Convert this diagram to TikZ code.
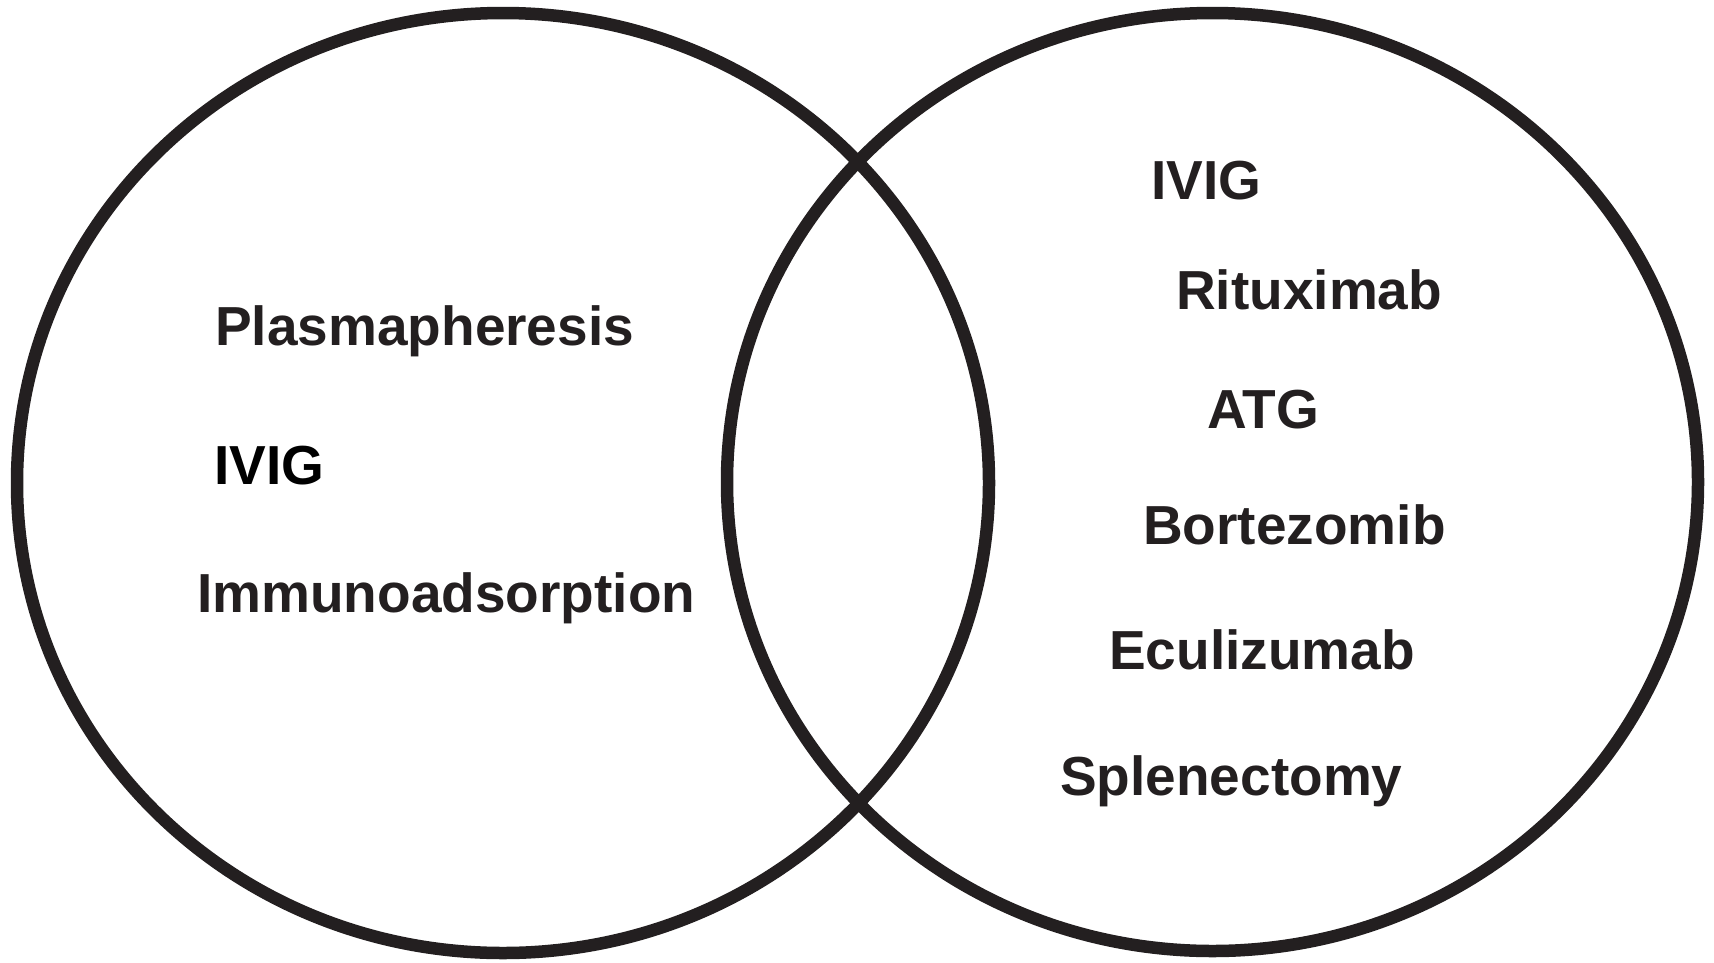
\documentclass[tikz,border=0pt]{standalone}
\usepackage{fontspec}
\setmainfont{Liberation Sans}
\usetikzlibrary{positioning}
\definecolor{inkdark}{RGB}{35,31,32}

\begin{document}
\begin{tikzpicture}[
    x=1pt, y=-1pt,
    ring/.style={draw=inkdark, line width=12.5pt},
    item/.style={anchor=base west, inner sep=0pt, text=inkdark,
        font=\fontsize{55}{60}\selectfont\bfseries}
]
\useasboundingbox (0,0) rectangle (1714,962);

% Circles
\draw[ring] (503,483) ellipse [x radius=486, y radius=470];
\draw[ring] (1212.5,482) ellipse [x radius=485.5, y radius=469];

% Left set
\node[item] (plasma) at (215,345) {Plasmapheresis};
\node[item, text=black] (ivigl) at (214,484) {IVIG};
\node[item] (immuno) at (197,612) {Immunoadsorption};

% Right set
\node[item] (ivigr) at (1151,199) {IVIG};
\node[item] (ritux) at (1176,309) {Rituximab};
\node[item] (atg) at (1207,428) {ATG};
\node[item] (bortez) at (1143,544) {Bortezomib};
\node[item] (eculiz) at (1109,669) {Eculizumab};
\node[item] (splen) at (1060,795) {Splenectomy};

\end{tikzpicture}
\end{document}
